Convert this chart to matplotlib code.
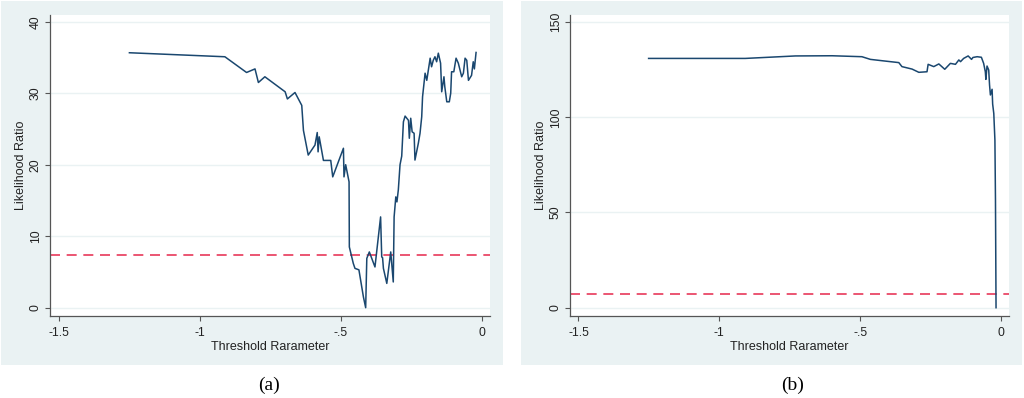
import numpy as np
import matplotlib
matplotlib.use("Agg")
import matplotlib.pyplot as plt
from matplotlib.patches import Rectangle

plt.rcParams['font.family'] = ['Liberation Sans', 'DejaVu Sans']

# panel (a)
thr_a = [-1.251, -0.912, -0.835, -0.805, -0.793, -0.770, -0.698, -0.690, -0.663, -0.639,
         -0.633, -0.616, -0.592, -0.584, -0.581, -0.577, -0.562, -0.536, -0.529, -0.491,
         -0.489, -0.483, -0.471, -0.470, -0.456, -0.450, -0.436, -0.420, -0.412, -0.408,
         -0.399, -0.379, -0.359, -0.355, -0.352, -0.349, -0.337, -0.323, -0.314, -0.311,
         -0.305, -0.301, -0.296, -0.290, -0.284, -0.278, -0.272, -0.260, -0.257, -0.252,
         -0.247, -0.240, -0.237, -0.225, -0.219, -0.213, -0.210, -0.201, -0.195, -0.183,
         -0.178, -0.172, -0.166, -0.160, -0.154, -0.146, -0.142, -0.134, -0.131, -0.124,
         -0.115, -0.110, -0.107, -0.099, -0.091, -0.083, -0.071, -0.065, -0.059, -0.053,
         -0.047, -0.036, -0.030, -0.026, -0.020]
lr_a = [35.66, 35.1, 32.9, 33.4, 31.5, 32.3, 30.2, 29.2, 30.1, 28.3,
        24.8, 21.35, 22.75, 24.5, 21.8, 23.9, 20.6, 20.6, 18.3, 22.3,
        18.3, 20.0, 17.6, 8.5, 6.2, 5.5, 5.3, 1.5, 0.0, 6.9,
        7.8, 5.7, 12.7, 7.1, 7.0, 5.5, 3.4, 7.8, 3.6, 12.7,
        15.5, 14.8, 16.5, 20.0, 21.2, 26.0, 26.8, 26.2, 23.7, 26.5,
        24.6, 24.4, 20.65, 23.0, 24.4, 26.7, 29.5, 32.8, 31.8, 34.9,
        33.7, 34.6, 35.1, 34.4, 35.6, 34.2, 30.2, 32.3, 30.9, 28.8,
        28.8, 30.0, 33.0, 33.0, 34.9, 34.2, 32.3, 32.8, 34.9, 34.6,
        31.8, 32.5, 34.4, 33.4, 35.7]

# panel (b)
thr_b = [-1.251, -0.908, -0.730, -0.600, -0.494, -0.464, -0.423, -0.363, -0.352, -0.316,
         -0.292, -0.263, -0.259, -0.239, -0.221, -0.200, -0.180, -0.162, -0.150, -0.144,
         -0.133, -0.117, -0.105, -0.100, -0.085, -0.070, -0.062, -0.056, -0.054, -0.050,
         -0.044, -0.041, -0.038, -0.032, -0.030, -0.026, -0.022, -0.020, -0.018]
lr_b = [130.9, 130.9, 132.2, 132.3, 131.8, 130.4, 129.7, 128.7, 126.6, 125.3,
        123.6, 123.9, 127.8, 126.6, 128.0, 125.2, 128.3, 127.8, 130.1, 129.2,
        130.9, 132.2, 130.4, 131.4, 131.8, 131.5, 128.3, 123.9, 119.9, 126.9,
        124.8, 116.9, 111.7, 114.7, 106.9, 102.0, 88.0, 56.5, 0.0]

crit = 7.35

bg = '#eaf2f3'
line_col = '#1a476f'
red = '#e8385a'

fig = plt.figure(figsize=(10.24, 3.98), dpi=100)
W, H = 1024, 398

def px(x0, y0, x1, y1):
    return [x0 / W, 1 - y1 / H, (x1 - x0) / W, (y1 - y0) / H]

for box in [(1, 1, 503, 365), (521, 1, 1022, 365)]:
    l, b, w, h = px(*box)
    fig.patches.append(Rectangle((l, b), w, h, transform=fig.transFigure,
                                 facecolor=bg, edgecolor='none', zorder=-5))

def panel(rect, x, y, xlim, ylim, yticks, caption, cx):
    ax = fig.add_axes(px(*rect))
    ax.set_facecolor('white')
    ax.plot(x, y, color=line_col, lw=1.1, zorder=3)
    ax.axhline(crit, color=red, lw=1.2, ls=(0, (6, 4)), zorder=2)
    ax.set_xlim(xlim)
    ax.set_ylim(ylim)
    ax.set_xticks([-1.5, -1, -0.5, 0])
    ax.set_xticklabels(['-1.5', '-1', '-.5', '0'])
    ax.set_yticks(yticks)
    ax.set_yticklabels([str(t) for t in yticks], rotation=90, va='center')
    ax.grid(axis='y', color=bg, lw=1.0)
    ax.set_axisbelow(True)
    for s in ['top', 'right']:
        ax.spines[s].set_visible(False)
    for s in ['left', 'bottom']:
        ax.spines[s].set_color('#555555')
        ax.spines[s].set_linewidth(0.9)
    ax.tick_params(labelsize=8.7, colors='#222222', length=3.5, width=0.8)
    ax.tick_params(axis='both', color='#555555')
    ax.tick_params(axis='x', pad=4.5)
    ax.tick_params(axis='y', pad=2.5)
    ax.set_xlabel('Threshold Rarameter', fontsize=9, labelpad=1.5, color='#222222')
    ax.set_ylabel('Likelihood Ratio', fontsize=9, labelpad=2, color='#222222')
    fig.text(cx / W, 1 - 385 / H, caption, ha='center', va='center',
             fontsize=14, family=['Liberation Serif', 'DejaVu Serif'])
    return ax

panel((50, 15, 490, 316), thr_a, lr_a, (-1.533, 0.0295), (-1.16, 40.94),
      [0, 10, 20, 30, 40], '(a)', 269)
panel((570, 15, 1009, 316), thr_b, lr_b, (-1.530, 0.028), (-4.36, 153.7),
      [0, 50, 100, 150], '(b)', 793)

fig.savefig('out.png', dpi=100)
